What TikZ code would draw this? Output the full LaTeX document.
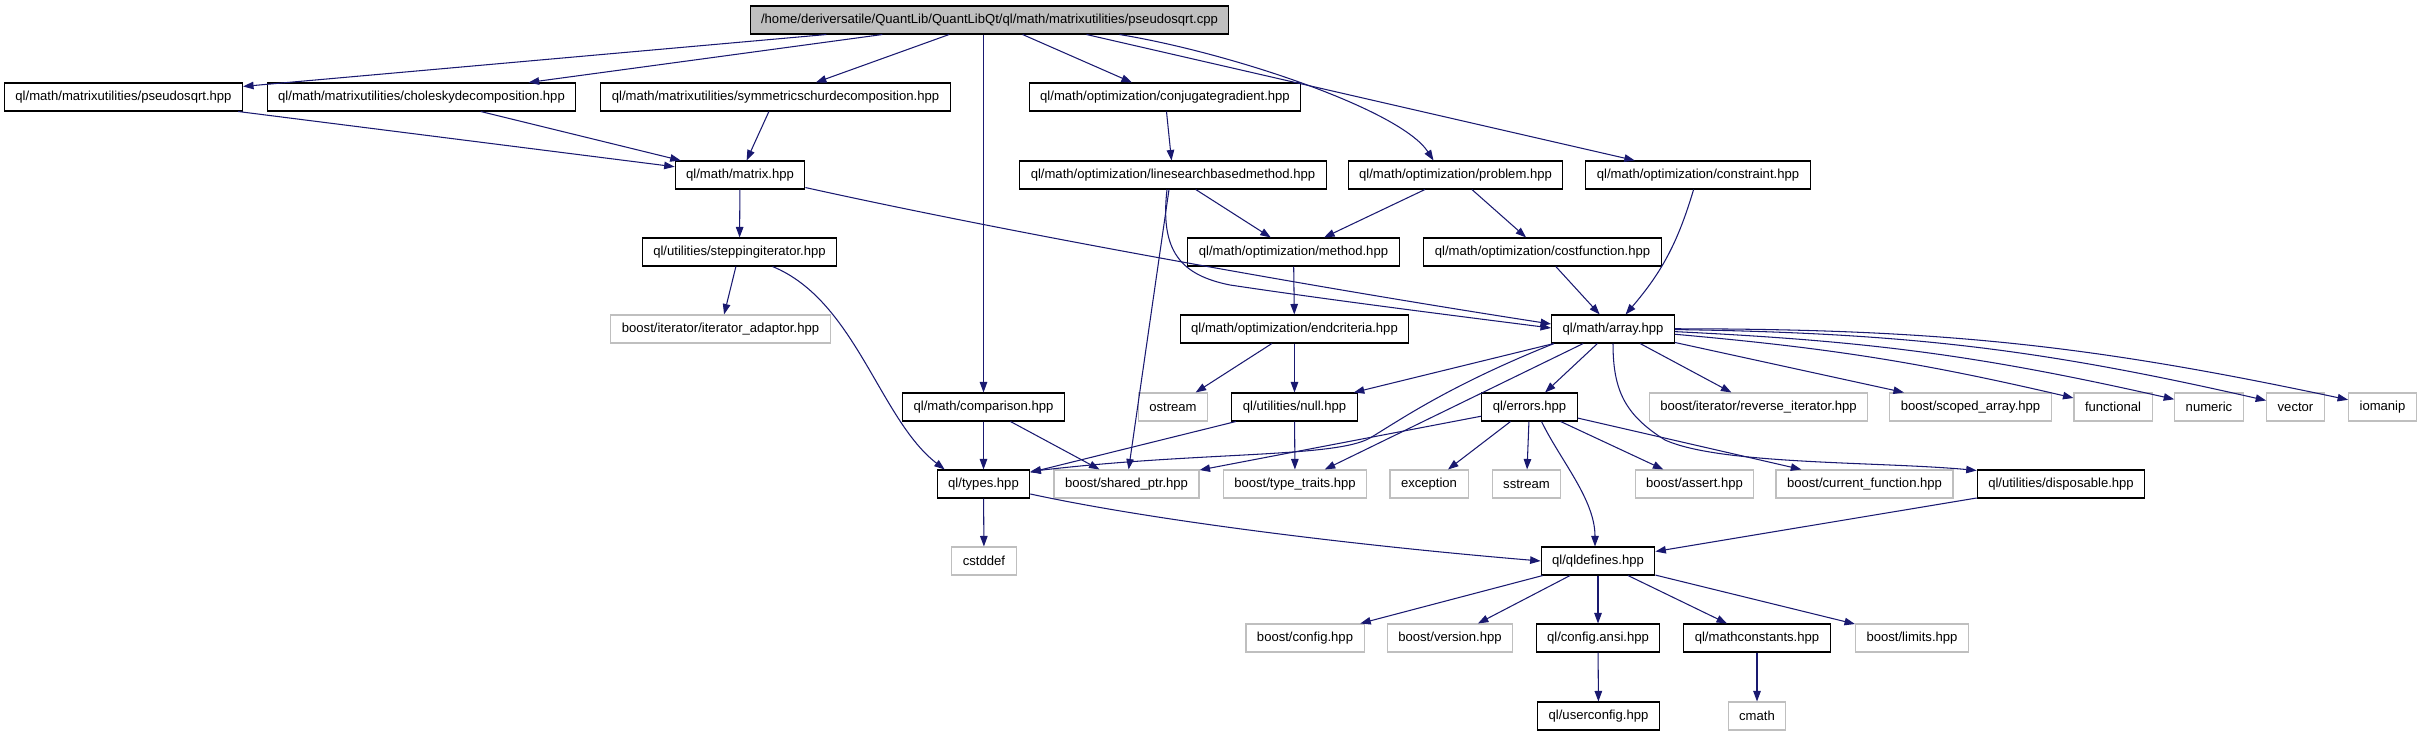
\documentclass[tikz,border=0pt]{standalone}
\usepackage{fontspec}
\setmainfont{Liberation Sans}
\usetikzlibrary{arrows.meta,calc}
\definecolor{inclblue}{HTML}{191970}
\definecolor{extgrey}{HTML}{BFBFBF}

\begin{document}
\begin{tikzpicture}[x=0.02cm,y=-0.02cm,
    filebox/.style={rectangle,minimum height=0.56cm,inner xsep=0.22cm,inner ysep=0pt,
      line width=0.6pt,font=\fontsize{7.45}{9}\selectfont},
    qlfile/.style={filebox,draw=black},
    extfile/.style={filebox,draw=extgrey},
    rootfile/.style={filebox,draw=black,fill=extgrey},
    incl/.style={-{Triangle[length=0.21cm,width=0.15cm]},inclblue,line width=0.6pt}]
    \useasboundingbox (0,0) rectangle (2421,736);
    \node[rootfile] (root) at (989.5,20)
      {/home/deriversatile/QuantLib/QuantLibQt/ql/math/matrixutilities/pseudosqrt.cpp};
    \node[qlfile] (pseudosqrt) at (123.5,97) {ql/math/matrixutilities/pseudosqrt.hpp};
    \node[qlfile] (cholesky) at (421.5,97) {ql/math/matrixutilities/choleskydecomposition.hpp};
    \node[qlfile] (symmetric) at (775.5,97) {ql/math/matrixutilities/symmetricschurdecomposition.hpp};
    \node[qlfile] (conjgrad) at (1165,97) {ql/math/optimization/conjugategradient.hpp};
    \node[qlfile] (matrix) at (740,175) {ql/math/matrix.hpp};
    \node[qlfile] (linesearch) at (1173,175) {ql/math/optimization/linesearchbasedmethod.hpp};
    \node[qlfile] (problem) at (1455.5,175) {ql/math/optimization/problem.hpp};
    \node[qlfile] (constraint) at (1698,175) {ql/math/optimization/constraint.hpp};
    \node[qlfile] (stepping) at (739.5,252) {ql/utilities/steppingiterator.hpp};
    \node[qlfile] (method) at (1293.5,252) {ql/math/optimization/method.hpp};
    \node[qlfile] (costfn) at (1542.5,252) {ql/math/optimization/costfunction.hpp};
    \node[extfile] (itadaptor) at (720.5,329) {boost/iterator/iterator\_adaptor.hpp};
    \node[qlfile] (endcrit) at (1294.5,329) {ql/math/optimization/endcriteria.hpp};
    \node[qlfile] (array) at (1613,329) {ql/math/array.hpp};
    \node[qlfile] (comparison) at (983.5,407) {ql/math/comparison.hpp};
    \node[extfile] (ostream) at (1173,407) {ostream};
    \node[qlfile] (null) at (1294.5,407) {ql/utilities/null.hpp};
    \node[qlfile] (errors) at (1529.5,407) {ql/errors.hpp};
    \node[extfile] (revit) at (1758.5,407) {boost/iterator/reverse\_iterator.hpp};
    \node[extfile] (scoped) at (1970.5,407) {boost/scoped\_array.hpp};
    \node[extfile] (functional) at (2113,407) {functional};
    \node[extfile] (numeric) at (2209,407) {numeric};
    \node[extfile] (vector) at (2295.5,407) {vector};
    \node[extfile] (iomanip) at (2382.5,407) {iomanip};
    \node[qlfile] (types) at (983.5,484) {ql/types.hpp};
    \node[extfile] (sharedptr) at (1126.5,484) {boost/shared\_ptr.hpp};
    \node[extfile] (typetraits) at (1295,484) {boost/type\_traits.hpp};
    \node[extfile] (exception) at (1429,484) {exception};
    \node[extfile] (sstream) at (1526.5,484) {sstream};
    \node[extfile] (assert) at (1694.5,484) {boost/assert.hpp};
    \node[extfile] (curfn) at (1864.5,484) {boost/current\_function.hpp};
    \node[qlfile] (disposable) at (2061,484) {ql/utilities/disposable.hpp};
    \node[extfile] (cstddef) at (984,561) {cstddef};
    \node[qlfile] (qldefines) at (1598,561) {ql/qldefines.hpp};
    \node[extfile] (config) at (1305,638) {boost/config.hpp};
    \node[extfile] (version) at (1450,638) {boost/version.hpp};
    \node[qlfile] (configansi) at (1598,638) {ql/config.ansi.hpp};
    \node[qlfile] (mathconst) at (1757,638) {ql/mathconstants.hpp};
    \node[extfile] (limits) at (1912,638) {boost/limits.hpp};
    \node[qlfile] (userconfig) at (1598.5,716) {ql/userconfig.hpp};
    \node[extfile] (cmath) at (1757,716) {cmath};
    % includes of the .cpp file
    \draw[incl] (root) -- (pseudosqrt);
    \draw[incl] (root) -- (cholesky);
    \draw[incl] (root) -- (symmetric);
    \draw[incl] (comparison |- root.south) -- (comparison);
    \draw[incl] (root) -- (conjgrad);
    \draw[incl] ($(root.south)+(97,0)$) -- (constraint);
    \draw[incl] ($(root.south)+(130,0)$) .. controls +(110,18) and +(-33,-51)
      .. ($(problem.north)+(-22,0)$);
    % matrix and optimization headers
    \draw[incl] (pseudosqrt) -- (matrix);
    \draw[incl] (cholesky) -- (matrix);
    \draw[incl] (symmetric) -- (matrix);
    \draw[incl] (matrix) -- (stepping);
    \draw[incl] ($(matrix.south east)+(0,-2)$) .. controls +(194,43) and +(-252,-39)
      .. ($(array.west)+(0,-5)$);
    \draw[incl] (conjgrad) -- (linesearch);
    \draw[incl] (linesearch) -- (method);
    \draw[incl] ($(linesearch.south)+(-4,0)$) -- (sharedptr);
    \draw[incl] ($(linesearch.south)+(-6,0)$) .. controls +(-7,61) and +(-50,-10) .. (1230,285)
      .. controls +(100,15) and +(-102,-13) .. ($(array.west)+(0,-1)$);
    \draw[incl] (problem) -- (method);
    \draw[incl] (problem) -- (costfn);
    \draw[incl] (constraint) to[bend left=12] (array);
    \draw[incl] (costfn) -- (array);
    \draw[incl] (method) -- (endcrit);
    \draw[incl] (endcrit) -- (ostream);
    \draw[incl] (endcrit) -- (null);
    \draw[incl] (stepping) -- (itadaptor);
    \draw[incl] ($(stepping.south)+(33,0)$) .. controls +(83,34) and +(-65,-50)
      .. ($(types.north west)+(8,0)$);
    % array.hpp
    \draw[incl] (array) -- (null);
    \draw[incl] ($(array.south west)+(3,0)$) .. controls +(-105,42) and +(30,-18) .. (1370,438)
      .. controls +(-35,20) and +(169,-20) .. ($(types.north east)+(0,2)$);
    \draw[incl] (array) -- (typetraits);
    \draw[incl] (array) -- (errors);
    \draw[incl] (array) -- (revit);
    \draw[incl] (array) -- (scoped);
    \draw[incl] (array) to[bend left=4] (functional);
    \draw[incl] (array) to[bend left=5] (numeric);
    \draw[incl] (array) to[bend left=6] (vector);
    \draw[incl] (array) to[bend left=6] (iomanip);
    \draw[incl] (array.south) .. controls +(0,47) and +(-40,-25) .. (1665,440)
      .. controls +(55,25) and +(-97,-9) .. ($(disposable.north west)+(0,1)$);
    % errors.hpp and the rest
    \draw[incl] (errors) -- (sharedptr);
    \draw[incl] (errors) -- (exception);
    \draw[incl] (errors) -- (sstream);
    \draw[incl] (errors) -- (assert);
    \draw[incl] (errors) -- (curfn);
    \draw[incl] ($(errors.south)+(12,0)$) .. controls +(19,39) and +(0,-47)
      .. ($(qldefines.north)+(-3,0)$);
    \draw[incl] (null) -- (types);
    \draw[incl] (null) -- (typetraits);
    \draw[incl] (comparison) -- (types);
    \draw[incl] (comparison) -- (sharedptr);
    \draw[incl] (types) -- (cstddef);
    \draw[incl] ($(types.east)+(0,10)$) .. controls +(120,26) and +(-191,-16) .. (qldefines.west);
    \draw[incl] (disposable) -- (qldefines);
    \draw[incl] (qldefines) -- (config);
    \draw[incl] (qldefines) -- (version);
    \draw[incl] (qldefines) -- (configansi);
    \draw[incl] (qldefines) -- (mathconst);
    \draw[incl] (qldefines) -- (limits);
    \draw[incl] (configansi) -- (userconfig);
    \draw[incl] (mathconst) -- (cmath);
  \end{tikzpicture}
\end{document}
